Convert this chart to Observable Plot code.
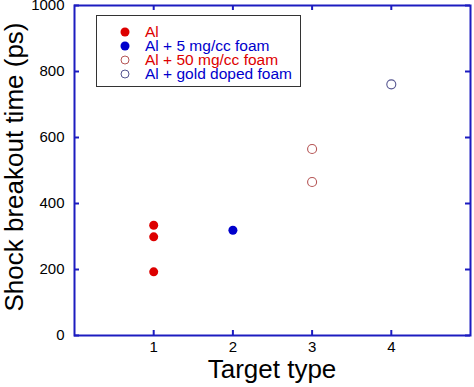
<!DOCTYPE html>
<html>
<head>
<meta charset="utf-8">
<script src="https://cdn.jsdelivr.net/npm/d3@7"></script>
<script src="https://cdn.jsdelivr.net/npm/@observablehq/plot@0.6"></script>
<style>
  html, body { margin: 0; padding: 0; background: #fff; }
  #wrap { position: relative; width: 474px; height: 387px; font-family: "Liberation Sans", Arial, sans-serif; }
  #legend { position: absolute; left: 96px; top: 15px; width: 203px; height: 70px; border: 1.5px solid #333; background: #fff; box-sizing: content-box; }
  .row { position: absolute; left: 0; height: 14px; line-height: 14px; display: flex; align-items: center; font-size: 15.5px; white-space: nowrap; }
  .row span { line-height: 14px; height: 14px; display: inline-block; }
  .row svg { margin-left: 22px; margin-right: 14px; }
</style>
</head>
<body>
<div id="wrap"></div>
<script>
// Data
const seriesNames = ["Al", "Al + 5 mg/cc foam", "Al + 50 mg/cc foam", "Al + gold doped foam"];
const seriesFill = ["#dd0000", "#0000cc", "none", "none"];
const seriesStroke = ["none", "none", "#b55555", "#555590"];
const seriesText = ["#dd0000", "#0000cc", "#dd0000", "#0000cc"];
const targetType = [1, 1, 1, 2, 3, 3, 4];
const breakoutTime = [334, 299, 193, 319, 565, 465, 761];
const seriesIndex = [0, 0, 0, 1, 2, 2, 3];
const xTicks = [1, 2, 3, 4];
const yTicks = [0, 200, 400, 600, 800, 1000];

const data = targetType.map((t, i) => ({x: t, y: breakoutTime[i], s: seriesIndex[i]}));

const W = 474, H = 387;
const mL = 74, mR = 4, mT = 5, mB = 52;
const innerW = W - mL - mR, innerH = H - mT - mB;
const frameColor = "#1c1cc0";
const tickLen = 5;
const fmt = d3.format("d");

const chart = Plot.plot({
  width: W, height: H,
  marginLeft: mL, marginRight: mR, marginTop: mT, marginBottom: mB,
  style: {fontFamily: "'Liberation Sans', Arial, sans-serif", background: "#fff", overflow: "visible"},
  x: {domain: [0, 5]},
  y: {domain: [0, 1000]},
  marks: [
    Plot.tickX(xTicks, {x: d => d, stroke: frameColor, strokeWidth: 2, insetTop: innerH - tickLen}),
    Plot.tickX(xTicks, {x: d => d, stroke: frameColor, strokeWidth: 2, insetBottom: innerH - tickLen}),
    Plot.tickY(yTicks, {y: d => d, stroke: frameColor, strokeWidth: 2, insetRight: innerW - tickLen}),
    Plot.tickY(yTicks, {y: d => d, stroke: frameColor, strokeWidth: 2, insetLeft: innerW - tickLen}),
    Plot.frame({stroke: frameColor, strokeWidth: 2}),
    Plot.axisX({ticks: xTicks, tickFormat: fmt, tickSize: 0, tickPadding: 6, fontSize: 15, color: "#000", label: null}),
    Plot.axisY({ticks: yTicks, tickFormat: fmt, tickSize: 0, tickPadding: 10, fontSize: 15, color: "#000", label: null}),
    Plot.dot(data, {x: "x", y: "y", r: 4.5,
      fill: d => seriesFill[d.s], stroke: d => seriesStroke[d.s], strokeWidth: 1.1}),
  ]
});

const wrap = document.getElementById("wrap");
wrap.appendChild(chart);

// axis titles
const svg = d3.select(chart);
svg.append("text")
  .attr("x", mL + innerW / 2).attr("y", 378)
  .attr("text-anchor", "middle")
  .attr("font-size", 26).attr("fill", "#000")
  .attr("font-family", "'Liberation Sans', Arial, sans-serif")
  .text("Target type");
svg.append("text")
  .attr("transform", `translate(23,${mT + innerH / 2 - 3}) rotate(-90)`)
  .attr("text-anchor", "middle")
  .attr("font-size", 26).attr("fill", "#000")
  .attr("font-family", "'Liberation Sans', Arial, sans-serif")
  .text("Shock breakout time (ps)");

// legend
const legend = document.createElement("div");
legend.id = "legend";
seriesNames.forEach((name, i) => {
  const row = document.createElement("div");
  row.className = "row";
  row.style.top = (9 + i * 14) + "px";
  row.style.color = seriesText[i];
  row.innerHTML = `<svg width="12" height="12"><circle cx="6" cy="6" r="${seriesFill[i] === "none" ? 4 : 4.5}" fill="${seriesFill[i]}" stroke="${seriesStroke[i]}" stroke-width="1"/></svg><span>${name}</span>`;
  legend.appendChild(row);
});
wrap.appendChild(legend);
</script>
</body>
</html>
